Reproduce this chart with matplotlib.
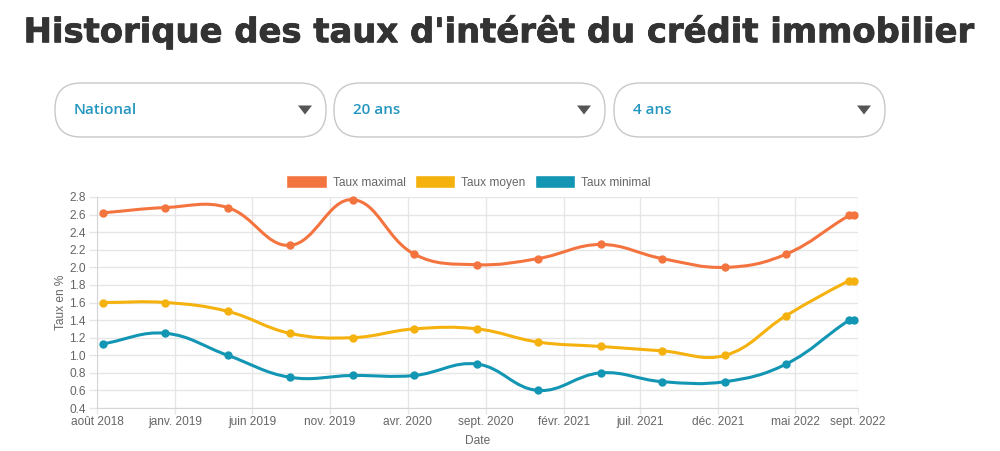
import numpy as np
import matplotlib
matplotlib.use("Agg")
import matplotlib.pyplot as plt
import matplotlib.dates as mdates
import matplotlib.patheffects as pe
from matplotlib.path import Path
from matplotlib.patches import PathPatch, FancyBboxPatch, Patch, Polygon
import datetime as dt

# ---- data ----
dates = ["2018-08-13", "2018-12-13", "2019-04-14", "2019-08-14", "2019-12-15",
         "2020-04-14", "2020-08-15", "2020-12-13", "2021-04-15", "2021-08-13",
         "2021-12-15", "2022-04-13", "2022-08-15", "2022-08-25"]
taux_max = [2.62, 2.68, 2.68, 2.25, 2.77, 2.15, 2.03, 2.10, 2.26, 2.10, 2.00, 2.15, 2.59, 2.59]
taux_moyen = [1.60, 1.60, 1.50, 1.25, 1.20, 1.30, 1.30, 1.15, 1.10, 1.05, 1.00, 1.45, 1.85, 1.85]
taux_min = [1.13, 1.25, 1.00, 0.75, 0.77, 0.77, 0.90, 0.60, 0.80, 0.70, 0.70, 0.90, 1.40, 1.40]

series_names = ["Taux maximal", "Taux moyen", "Taux minimal"]
series_colors = ["#f4743f", "#f5b10d", "#1296b3"]

tick_dates = ["2018-08-01", "2019-01-01", "2019-06-01", "2019-11-01", "2020-04-01",
              "2020-09-01", "2021-02-01", "2021-07-01", "2021-12-01", "2022-05-01",
              "2022-09-01"]
tick_labels = ["août 2018", "janv. 2019", "juin 2019", "nov. 2019", "avr. 2020",
               "sept. 2020", "févr. 2021", "juil. 2021", "déc. 2021", "mai 2022",
               "sept. 2022"]

dropdowns = ["National", "20 ans", "4 ans"]
title = "Historique des taux d'intérêt du crédit immobilier"

chart_font = "Liberation Sans"


def to_num(ds):
    return mdates.date2num([dt.datetime.strptime(d, "%Y-%m-%d") for d in ds])


def spline_path(ax, xs, ys, tension=0.4):
    # chart.js style cubic bezier, computed in pixel space
    pts = ax.transData.transform(np.column_stack([xs, ys]))
    n = len(pts)
    cp_prev = np.zeros_like(pts)
    cp_next = np.zeros_like(pts)
    for i in range(n):
        prev = pts[max(i - 1, 0)]
        cur = pts[i]
        nxt = pts[min(i + 1, n - 1)]
        d01 = np.hypot(*(cur - prev))
        d12 = np.hypot(*(nxt - cur))
        tot = d01 + d12
        s01 = d01 / tot if tot else 0
        s12 = d12 / tot if tot else 0
        cp_prev[i] = cur - tension * s01 * (nxt - prev)
        cp_next[i] = cur + tension * s12 * (nxt - prev)
    verts = [pts[0]]
    codes = [Path.MOVETO]
    for i in range(n - 1):
        verts += [cp_next[i], cp_prev[i + 1], pts[i + 1]]
        codes += [Path.CURVE4] * 3
    verts = ax.transData.inverted().transform(np.array(verts))
    return Path(verts, codes)


fig = plt.figure(figsize=(10, 4.51), dpi=100)
fig.patch.set_facecolor("white")

# title, shrunk to fit the width of the reference
t = fig.text(0.4985, 0.929, title, ha="center", va="center", fontsize=26,
             fontweight="bold", color="#333333", family="DejaVu Sans",
             path_effects=[pe.withStroke(linewidth=0.6, foreground="#333333")])
r = fig.canvas.get_renderer()
tw = t.get_window_extent(renderer=r).width
t.set_fontsize(26 * 952 / tw)

# dropdown boxes (drawn in inches so the ends stay round)
box_left = [55, 334, 614]
for bx, label in zip(box_left, dropdowns):
    box = FancyBboxPatch((bx / 100, (451 - 137) / 100), 2.71, 0.54,
                         boxstyle="round,pad=0,rounding_size=0.26",
                         transform=fig.dpi_scale_trans, facecolor="white",
                         edgecolor="#c8c8c8", linewidth=1.0)
    fig.patches.append(box)
    fig.text((bx + 19) / 1000, 1 - 110 / 451, label, ha="left", va="center",
             fontsize=11, fontweight="semibold", color="#2596c0", family="Open Sans")
    tx = (bx + 250) / 100
    ty = (451 - 110) / 100
    tri = Polygon([[tx - 0.07, ty + 0.045], [tx + 0.07, ty + 0.045], [tx, ty - 0.045]],
                  closed=True, transform=fig.dpi_scale_trans, facecolor="#555555",
                  edgecolor="none")
    fig.patches.append(tri)

# chart
ax = fig.add_axes([0.097, 0.0953, 0.761, 0.4679])
x = to_num(dates)
xt = to_num(tick_dates)
ax.set_xlim(xt[0], xt[-1])
ax.set_ylim(0.4, 2.8)

grid_col = "#e6e6e6"
yt = np.round(np.arange(0.4, 2.81, 0.2), 1)
ax.set_yticks(yt)
ax.set_yticklabels(["%.1f" % v for v in yt], family=chart_font)
ax.set_xticks(xt)
ax.set_xticklabels(tick_labels, family=chart_font)
ax.grid(True, color=grid_col, linewidth=1)
ax.set_axisbelow(True)
ax.tick_params(axis="both", colors=grid_col, labelcolor="#666666", labelsize=8.6,
               width=1)
ax.tick_params(axis="y", length=6, pad=2)
ax.tick_params(axis="x", length=4, pad=2)
for s in ["top", "right"]:
    ax.spines[s].set_visible(False)
for s in ["left", "bottom"]:
    ax.spines[s].set_color("#d6d6d6")
ax.set_ylabel("Taux en %", color="#666666", fontsize=8.6, labelpad=2, family=chart_font)
ax.set_xlabel("Date", color="#666666", fontsize=8.6, labelpad=5, family=chart_font)

for vals, col in zip([taux_max, taux_moyen, taux_min], series_colors):
    p = spline_path(ax, x, vals)
    ax.add_patch(PathPatch(p, facecolor="none", edgecolor=col, linewidth=2.2,
                           clip_on=False, zorder=3))
    ax.plot(x, vals, "o", color=col, markersize=5, zorder=4, clip_on=False)

handles = [Patch(facecolor=c, edgecolor="white", linewidth=1) for c in series_colors]
fig.legend(handles, series_names, loc="center", bbox_to_anchor=(0.4685, 0.5965),
           ncol=3, frameon=False, labelcolor="#666666",
           prop={"family": chart_font, "size": 8.6},
           handlelength=3.4, handleheight=1.2, handletextpad=0.5,
           columnspacing=0.75)

fig.savefig("out.png", dpi=100, facecolor="white")
